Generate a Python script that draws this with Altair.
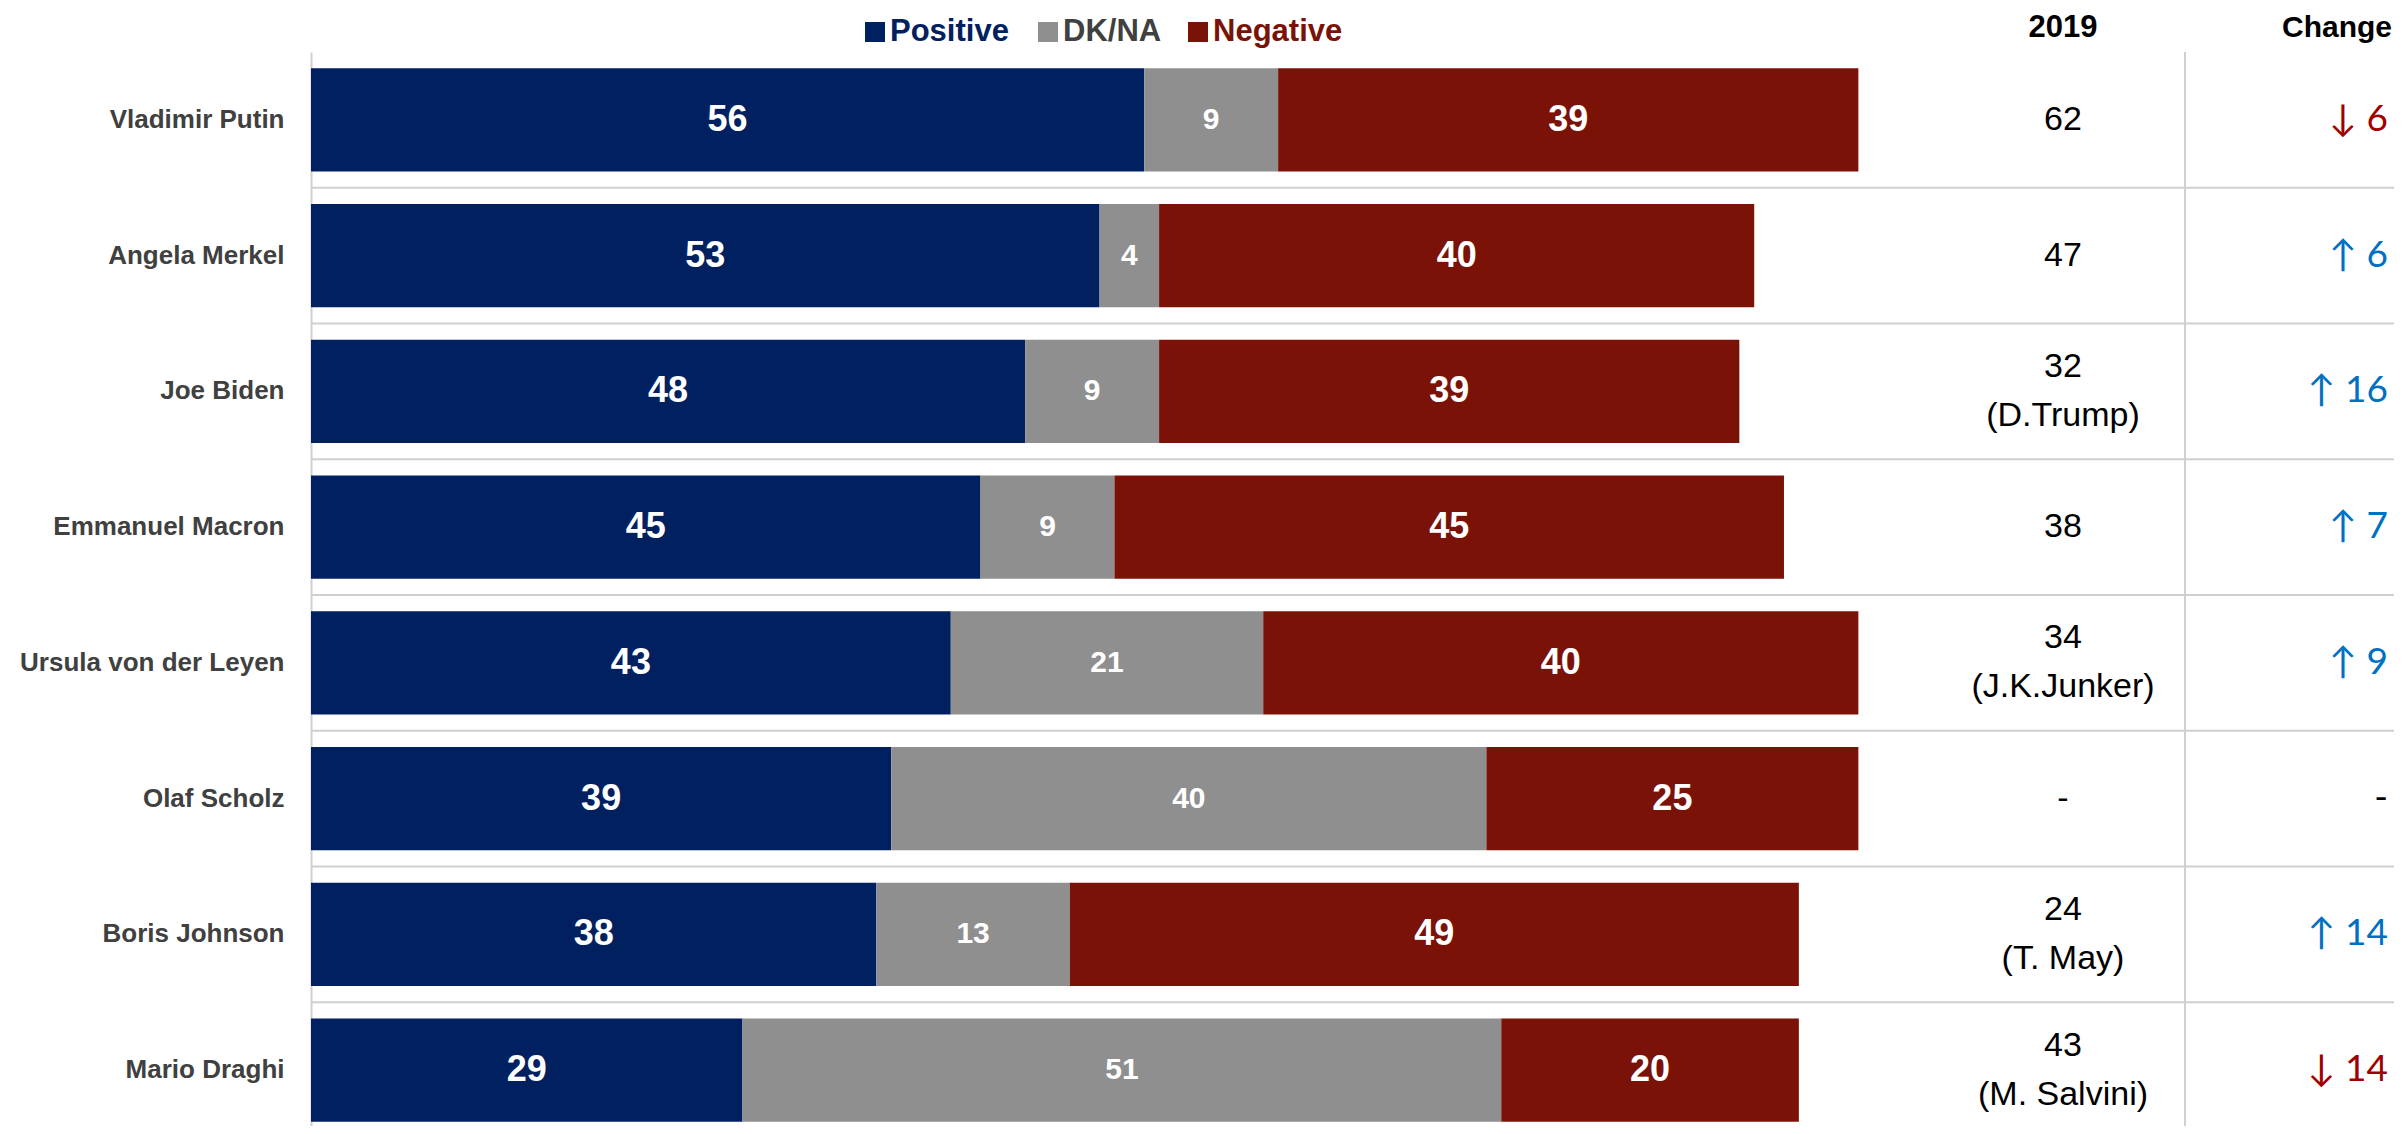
import altair as alt
import pandas as pd

# ---------------- data ----------------
names = ["Vladimir Putin", "Angela Merkel", "Joe Biden", "Emmanuel Macron",
         "Ursula von der Leyen", "Olaf Scholz", "Boris Johnson", "Mario Draghi"]
positive = [56, 53, 48, 45, 43, 39, 38, 29]
dkna = [9, 4, 9, 9, 21, 40, 13, 51]
negative = [39, 40, 39, 45, 40, 25, 49, 20]
prev_2019 = ["62", "47", "32", "38", "34", "-", "24", "43"]
prev_leader = ["", "", "D.Trump", "", "J.K.Junker", "", "T. May", "M. Salvini"]
change = [-6, 6, 16, 7, 9, None, 14, -14]
categories = ["Positive", "DK/NA", "Negative"]

# ---------------- style ----------------
SANS = "Liberation Sans, Arial"
bar_colors = {"Positive": "#002060", "DK/NA": "#8F8F8F", "Negative": "#7B1208"}
legend_text_colors = {"Positive": "#002060", "DK/NA": "#404040", "Negative": "#7B1208"}
label_sizes = {"Positive": 36, "DK/NA": 30, "Negative": 36}
GRID = "#D0D0D0"

W = 2083          # plot width
H = 1074          # visible plot height
RANGE_H = 1086    # y range (last row is cut by the page edge)
col2019_x = 1752
change_x = 2077
divider_x = 1874
legend_sq_x = [564, 737, 887]
LINE_H = 49

# ---------------- frames ----------------
rows = []
for i, n in enumerate(names):
    start = 0
    for cat, vals in zip(categories, [positive, dkna, negative]):
        v = vals[i]
        rows.append(dict(name=n, cat=cat, value=v, start=start, end=start + v,
                         fs=label_sizes[cat]))
        start += v
bars_df = pd.DataFrame(rows)


def fmt_change(c):
    if c is None:
        return "-"
    return ("\u2191 " if c > 0 else "\u2193 ") + str(abs(c))


side_df = pd.DataFrame({
    "name": names,
    "prev": prev_2019,
    "leader": prev_leader,
    "change": [fmt_change(c) for c in change],
    "dir": ["none" if c is None else ("up" if c > 0 else "down") for c in change],
})

y_enc = alt.Y(
    "name:N", sort=names, title=None,
    scale=alt.Scale(range=[0, RANGE_H], paddingInner=0, paddingOuter=0),
    axis=alt.Axis(ticks=False, labelFont=SANS, labelFontWeight="bold",
                  labelFontSize=26, labelColor="#404040", labelPadding=27,
                  labelLimit=0, domainColor=GRID, domainWidth=2, grid=False),
)
x_scale = alt.Scale(domain=[0, 140], nice=False, zero=True)

base = alt.Chart(bars_df)

bars = base.mark_bar(height={"band": 0.76}).encode(
    y=y_enc,
    x=alt.X("start:Q", scale=x_scale, axis=None),
    x2="end:Q",
    color=alt.Color("cat:N", legend=None,
                    scale=alt.Scale(domain=categories,
                                    range=[bar_colors[c] for c in categories])),
)

bar_text = base.transform_calculate(mid="(datum.start + datum.end) / 2").mark_text(
    color="white", fontWeight="bold", font=SANS, baseline="middle"
).encode(
    y=y_enc,
    x=alt.X("mid:Q", scale=x_scale, axis=None),
    text="value:Q",
    size=alt.Size("fs:Q", scale=None, legend=None),
)

side = alt.Chart(side_df)

grid = side.mark_rule(color=GRID, strokeWidth=2).encode(
    y=alt.Y("name:N", sort=names, bandPosition=1),
    x=alt.value(0), x2=alt.value(W),
)

divider = side.mark_rule(color=GRID, strokeWidth=2).encode(
    x=alt.value(divider_x), y=alt.value(0), y2=alt.value(RANGE_H),
)

prev_single = side.transform_filter("datum.leader == ''").mark_text(
    font=SANS, fontSize=34, color="black", baseline="middle").encode(
    y=y_enc, x=alt.value(col2019_x), text="prev:N",
)

prev_double = side.transform_filter("datum.leader != ''").transform_calculate(
    full="[datum.prev, '(' + datum.leader + ')']"
).mark_text(font=SANS, fontSize=34, lineHeight=LINE_H, color="black",
            baseline="middle", dy=-LINE_H / 2).encode(
    y=y_enc, x=alt.value(col2019_x), text="full:N",
)

change_text = side.mark_text(font="Lato", fontSize=37, align="right",
                             baseline="middle").encode(
    y=y_enc, x=alt.value(change_x), text="change:N",
    color=alt.Color("dir:N", legend=None,
                    scale=alt.Scale(domain=["up", "down", "none"],
                                    range=["#0070C0", "#A00000", "#000000"])),
)

one = alt.Chart(pd.DataFrame({"k": [0]}))
headers = [
    one.mark_text(text="2019", font=SANS, fontWeight="bold", fontSize=31,
                  color="black", align="center", baseline="middle").encode(
        x=alt.value(col2019_x), y=alt.value(-24)),
    one.mark_text(text="Change", font=SANS, fontWeight="bold", fontSize=30,
                  color="black", align="right", baseline="middle").encode(
        x=alt.value(2081), y=alt.value(-24)),
]

legend_layers = []
for cat, sx in zip(categories, legend_sq_x):
    legend_layers.append(one.mark_square(size=400, filled=True, opacity=1,
                                         color=bar_colors[cat]).encode(
        x=alt.value(sx), y=alt.value(-20)))
    legend_layers.append(one.mark_text(text=cat, font=SANS, fontWeight="bold",
                                       fontSize=31, color=legend_text_colors[cat],
                                       align="left", baseline="middle").encode(
        x=alt.value(sx + 15), y=alt.value(-20)))

chart = alt.layer(
    grid, divider, bars, bar_text, prev_single, prev_double, change_text,
    *headers, *legend_layers
).resolve_scale(color="independent").properties(
    width=W, height=H,
    padding={"left": 303, "top": 44, "right": 0, "bottom": 0},
    autosize=alt.AutoSizeParams(type="none"),
).configure_view(stroke=None)

chart.save("out.html", embed_options={"renderer": "svg", "actions": False})
